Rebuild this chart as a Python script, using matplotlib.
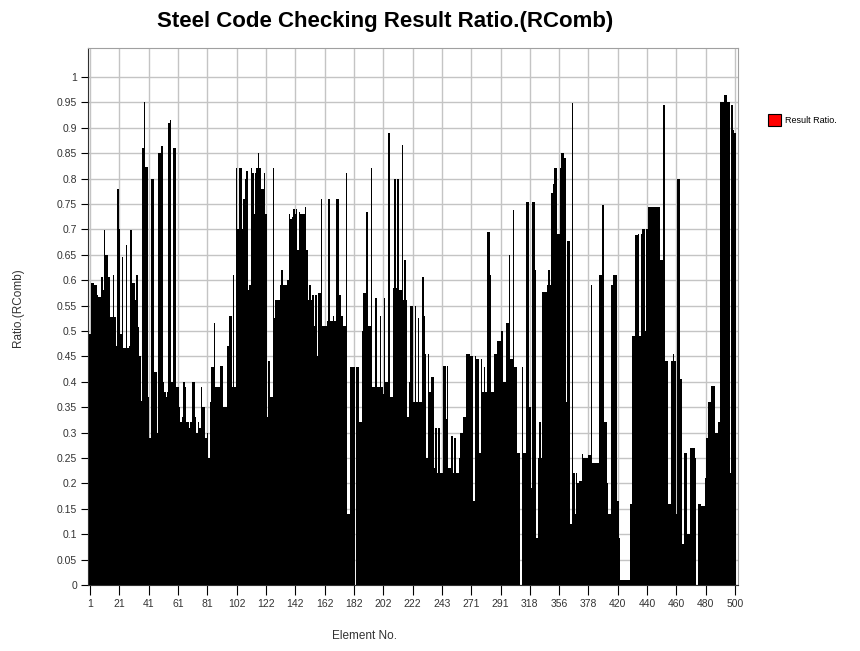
import matplotlib
matplotlib.use("Agg")
import matplotlib.pyplot as plt
import numpy as np
from matplotlib.patches import Patch

plt.rcParams['font.family'] = ['Liberation Sans', 'DejaVu Sans']

# Result ratio per element, 20 bars per tick interval
ratio_g00 = [0.495, 0.595, 0.595, 0.59, 0.59, 0.57, 0.566, 0.566, 0.606, 0.58,
             0.698, 0.649, 0.649, 0.606, 0.527, 0.527, 0.61, 0.527, 0.47, 0.78]
ratio_g01 = [0.70, 0.495, 0.645, 0.467, 0.467, 0.67, 0.467, 0.47, 0.698, 0.594,
             0.594, 0.56, 0.61, 0.507, 0.45, 0.363, 0.86, 0.95, 0.823, 0.823]
ratio_g02 = [0.37, 0.29, 0.80, 0.80, 0.42, 0.42, 0.30, 0.85, 0.85, 0.865,
             0.40, 0.38, 0.37, 0.38, 0.91, 0.915, 0.40, 0.86, 0.86, 0.39]
ratio_g03 = [0.39, 0.35, 0.32, 0.33, 0.40, 0.39, 0.32, 0.32, 0.31, 0.32,
             0.40, 0.40, 0.33, 0.30, 0.32, 0.31, 0.39, 0.35, 0.35, 0.29]
ratio_g04 = [0.30, 0.25, 0.36, 0.43, 0.43, 0.515, 0.39, 0.39, 0.39, 0.432,
             0.432, 0.35, 0.35, 0.35, 0.47, 0.53, 0.53, 0.39, 0.61, 0.39]
ratio_g05 = [0.82, 0.70, 0.82, 0.82, 0.70, 0.76, 0.80, 0.815, 0.58, 0.59,
             0.82, 0.81, 0.73, 0.81, 0.82, 0.85, 0.82, 0.78, 0.78, 0.81]
ratio_g06 = [0.73, 0.33, 0.44, 0.37, 0.37, 0.82, 0.525, 0.56, 0.56, 0.56,
             0.59, 0.62, 0.59, 0.59, 0.59, 0.60, 0.73, 0.72, 0.725, 0.74]
ratio_g07 = [0.73, 0.74, 0.66, 0.735, 0.73, 0.73, 0.73, 0.745, 0.66, 0.56,
             0.59, 0.56, 0.57, 0.51, 0.57, 0.45, 0.575, 0.575, 0.76, 0.51]
ratio_g08 = [0.51, 0.51, 0.52, 0.76, 0.52, 0.52, 0.53, 0.52, 0.76, 0.76,
             0.57, 0.57, 0.53, 0.51, 0.51, 0.81, 0.14, 0.14, 0.43, 0.43]
ratio_g09 = [0.43, 0.0, 0.43, 0.43, 0.32, 0.32, 0.50, 0.575, 0.575, 0.735,
             0.51, 0.51, 0.82, 0.39, 0.39, 0.565, 0.39, 0.39, 0.53, 0.39]
ratio_g10 = [0.375, 0.565, 0.40, 0.40, 0.89, 0.37, 0.37, 0.585, 0.80, 0.585,
             0.80, 0.58, 0.58, 0.866, 0.56, 0.64, 0.56, 0.33, 0.40, 0.55]
ratio_g11 = [0.55, 0.36, 0.55, 0.36, 0.525, 0.36, 0.36, 0.606, 0.53, 0.455,
             0.25, 0.455, 0.38, 0.41, 0.41, 0.23, 0.31, 0.22, 0.31, 0.22]
ratio_g12 = [0.22, 0.432, 0.432, 0.327, 0.432, 0.23, 0.23, 0.293, 0.22, 0.29,
             0.22, 0.22, 0.25, 0.30, 0.30, 0.33, 0.33, 0.455, 0.455, 0.455]
ratio_g13 = [0.45, 0.45, 0.165, 0.45, 0.445, 0.445, 0.26, 0.445, 0.38, 0.43,
             0.38, 0.694, 0.694, 0.61, 0.38, 0.38, 0.455, 0.455, 0.48, 0.48]
ratio_g14 = [0.48, 0.50, 0.40, 0.40, 0.515, 0.515, 0.649, 0.445, 0.445, 0.738,
             0.43, 0.43, 0.26, 0.26, 0.0, 0.43, 0.26, 0.26, 0.754, 0.754]
ratio_g15 = [0.35, 0.19, 0.754, 0.754, 0.62, 0.093, 0.25, 0.32, 0.25, 0.576,
             0.576, 0.576, 0.59, 0.62, 0.59, 0.771, 0.79, 0.82, 0.82, 0.69]
ratio_g16 = [0.69, 0.82, 0.85, 0.85, 0.84, 0.36, 0.678, 0.678, 0.12, 0.948,
             0.22, 0.14, 0.22, 0.20, 0.205, 0.205, 0.258, 0.25, 0.25, 0.25]
ratio_g17 = [0.255, 0.255, 0.59, 0.24, 0.24, 0.24, 0.24, 0.24, 0.61, 0.61,
             0.748, 0.32, 0.32, 0.20, 0.14, 0.14, 0.59, 0.61, 0.61, 0.61]
ratio_g18 = [0.165, 0.093, 0.01, 0.01, 0.01, 0.01, 0.01, 0.01, 0.01, 0.16,
             0.49, 0.49, 0.688, 0.688, 0.69, 0.49, 0.69, 0.70, 0.70, 0.50]
ratio_g19 = [0.70, 0.745, 0.745, 0.745, 0.745, 0.745, 0.745, 0.745, 0.745, 0.64,
             0.64, 0.945, 0.945, 0.44, 0.44, 0.16, 0.16, 0.44, 0.455, 0.44]
ratio_g20 = [0.14, 0.80, 0.80, 0.405, 0.08, 0.08, 0.26, 0.26, 0.10, 0.10,
             0.27, 0.27, 0.27, 0.25, 0.0, 0.16, 0.16, 0.155, 0.155, 0.155]
ratio_g21 = [0.21, 0.29, 0.36, 0.36, 0.392, 0.392, 0.392, 0.30, 0.30, 0.32,
             0.95, 0.95, 0.95, 0.965, 0.965, 0.95, 0.95, 0.22, 0.945, 0.895]
ratio_last = [0.89]

tick_labels = ["1", "21", "41", "61", "81", "102", "122", "142", "162", "182",
               "202", "222", "243", "271", "291", "318", "356", "378", "420",
               "440", "460", "480", "500"]
y_ticks = [i * 0.05 for i in range(21)]
y_labels = ["0", "0.05", "0.1", "0.15", "0.2", "0.25", "0.3", "0.35", "0.4",
            "0.45", "0.5", "0.55", "0.6", "0.65", "0.7", "0.75", "0.8", "0.85",
            "0.9", "0.95", "1"]

ratio = (ratio_g00 + ratio_g01 + ratio_g02 + ratio_g03 + ratio_g04 + ratio_g05
         + ratio_g06 + ratio_g07 + ratio_g08 + ratio_g09 + ratio_g10 + ratio_g11
         + ratio_g12 + ratio_g13 + ratio_g14 + ratio_g15 + ratio_g16 + ratio_g17
         + ratio_g18 + ratio_g19 + ratio_g20 + ratio_g21 + ratio_last)
pos = np.arange(len(ratio))

fig = plt.figure(figsize=(8.6, 6.51), dpi=100)
ax = fig.add_axes([88 / 860, 1 - 585 / 651, 650 / 860, 537 / 651])

ax.bar(pos, ratio, width=1.0, color="black", edgecolor="none", zorder=3)

ax.set_xlim(-1.4, 442)
ax.set_ylim(0, 1.057)
ax.set_yticks(y_ticks)
ax.set_yticklabels(y_labels)
ax.set_xticks(pos[::20])
ax.set_xticklabels(tick_labels)
ax.grid(True, color="#c4c4c4", linewidth=1.0, zorder=0)
ax.tick_params(axis="y", direction="out", length=5, width=0.8, labelsize=7.5,
               labelcolor="#333333", pad=3)
ax.tick_params(axis="x", direction="out", length=7, width=0.8, labelsize=7.5,
               labelcolor="#333333", pad=3)

for side in ["top", "right"]:
    ax.spines[side].set_color("#a0a0a0")
ax.spines["left"].set_color("#303030")
ax.spines["bottom"].set_color("#303030")

fig.text(385 / 860, 1 - 21 / 651, "Steel Code Checking Result Ratio.(RComb)",
         ha="center", va="center", fontsize=16, fontweight="bold")
fig.text(365 / 860, 1 - 636 / 651, "Element No.", ha="center", va="center",
         fontsize=8.5, color="#333333")
fig.text(18 / 860, 1 - 308 / 651, "Ratio.(RComb)", ha="center", va="center",
         fontsize=8.5, color="#333333", rotation=90)

handle = Patch(facecolor="red", edgecolor="black", linewidth=0.8)
fig.legend([handle], ["Result Ratio."], loc="center left",
           bbox_to_anchor=(760 / 860, 1 - 120 / 651), frameon=False,
           fontsize=6.5, handlelength=1.4, handleheight=1.8, handletextpad=0.5)

fig.savefig("out.png", dpi=100)
